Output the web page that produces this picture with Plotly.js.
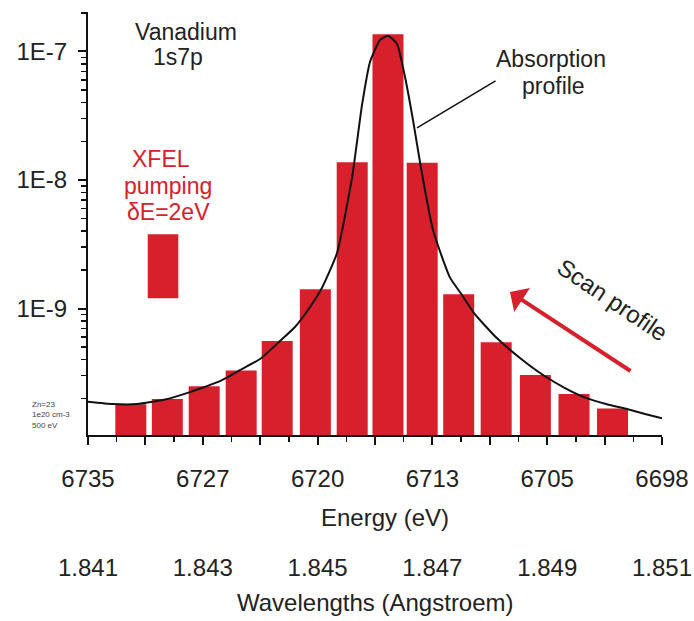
<!DOCTYPE html>
<html><head><meta charset="utf-8">
<script src="https://cdn.plot.ly/plotly-3.0.1.min.js"></script>
<style>html,body{margin:0;padding:0;background:#fff}#chart{width:694px;height:621px}</style>
</head><body><div id="chart"></div>
<script>
// Scan bars (wavelength in Angstrom, intensity)
const barWavelength = [1.841746, 1.842382, 1.843024, 1.843669, 1.844296, 1.844961, 1.845603,
  1.846226, 1.846822, 1.847458, 1.848111, 1.848794, 1.849467, 1.850138];
const barIntensity = [1.80e-10, 1.975e-10, 2.49e-10, 3.30e-10, 5.58e-10, 1.41e-9, 1.373e-8,
  1.361e-7, 1.363e-8, 1.29e-9, 5.46e-10, 3.04e-10, 2.16e-10, 1.67e-10];

// XFEL pumping box
const pumpWavelength = [1.842307];
const pumpBottom = [1.20e-9];
const pumpTop = [3.78e-9];

// Absorption profile curve
const curveWavelength = [1.841000, 1.841436, 1.841854, 1.842341, 1.842777, 1.843003, 1.843300,
  1.843648, 1.843997, 1.844345, 1.844606, 1.844868, 1.845077, 1.845338, 1.845599, 1.845774,
  1.845913, 1.846087, 1.846226, 1.846383, 1.846523, 1.846662, 1.846801, 1.847010, 1.847307,
  1.847516, 1.847725, 1.848108, 1.848526, 1.848927, 1.849310, 1.849641, 1.850024, 1.850390,
  1.850704, 1.851000];
const curveIntensity = [1.883e-10, 1.806e-10, 1.806e-10, 1.958e-10, 2.239e-10, 2.430e-10, 2.728e-10,
  3.321e-10, 4.046e-10, 5.585e-10, 7.178e-10, 1.027e-9, 1.45e-9, 2.703e-9, 1.036e-8, 3.835e-8,
  8.287e-8, 1.229e-7, 1.327e-7, 1.144e-7, 6.331e-8, 2.930e-8, 1.240e-8, 4.081e-9, 1.739e-9,
  1.274e-9, 9.21e-10, 5.98e-10, 4.120e-10, 3.038e-10, 2.406e-10, 2.047e-10, 1.806e-10, 1.651e-10,
  1.510e-10, 1.398e-10];

// Tick labels
const xMajorTicks = [1.841, 1.842, 1.843, 1.844, 1.845, 1.846, 1.847, 1.848, 1.849, 1.850, 1.851];
const energyTickText = ['6735', '', '6727', '', '6720', '', '6713', '', '6705', '', '6698'];
const waveTickVals = [1.841, 1.843, 1.845, 1.847, 1.849, 1.851];
const waveTickText = ['1.841', '1.843', '1.845', '1.847', '1.849', '1.851'];
const yTickVals = [1e-9, 1e-8, 1e-7];
const yTickText = ['1E-9', '1E-8', '1E-7'];

const minorY = [];
[-10, -9, -8, -7].forEach(e => { for (let d = 2; d <= 9; d++) minorY.push(d * Math.pow(10, e)); });

const RED = '#d7202b';
const FONT = 'Liberation Sans, Arial, sans-serif';

const traces = [
  {type: 'bar', x: barWavelength, y: barIntensity, width: 0.00054,
   marker: {color: RED, line: {width: 0}}, xaxis: 'x', yaxis: 'y', hoverinfo: 'skip'},
  {type: 'bar', x: pumpWavelength, base: pumpBottom, y: pumpTop.map((t, i) => t - pumpBottom[i]),
   width: 0.000533, marker: {color: RED, line: {width: 0}}, xaxis: 'x', yaxis: 'y', hoverinfo: 'skip'},
  {type: 'scatter', mode: 'lines', x: curveWavelength, y: curveIntensity,
   line: {color: '#111', width: 2, shape: 'spline', smoothing: 0.5}, xaxis: 'x', yaxis: 'y', hoverinfo: 'skip'},
  {type: 'scatter', mode: 'markers', x: [1.846], y: [0], marker: {opacity: 0}, xaxis: 'x2', yaxis: 'y2', hoverinfo: 'skip'}
];

function ann(text, x, y, size, color, extra) {
  return Object.assign({text: text, xref: 'paper', yref: 'paper', x: x, y: y, showarrow: false,
    xanchor: 'center', yanchor: 'middle', borderpad: 0, font: {family: FONT, size: size, color: color}}, extra || {});
}

const layout = {
  width: 694, height: 621,
  margin: {l: 88, r: 32, t: 12, b: 10},
  paper_bgcolor: '#fff', plot_bgcolor: '#fff',
  showlegend: false, barmode: 'overlay',
  font: {family: FONT, size: 24, color: '#222'},
  xaxis: {domain: [0, 1], anchor: 'y', range: [1.841, 1.851], showline: true, linewidth: 2, linecolor: '#111',
    ticks: 'outside', ticklen: 8, tickwidth: 2, tickcolor: '#111', tickmode: 'array',
    tickvals: xMajorTicks, ticktext: energyTickText, tickfont: {family: FONT, size: 24, color: '#222'},
    ticklabelstandoff: 13, showgrid: false, zeroline: false,
    minor: {ticks: 'outside', ticklen: 5, tickwidth: 1.5, tickcolor: '#111', tickmode: 'linear',
      tick0: 1.841, dtick: 0.0005, showgrid: false}},
  yaxis: {domain: [0.2938, 1], anchor: 'x', type: 'log', range: [-9.984, -6.693], showline: true,
    linewidth: 2, linecolor: '#111', ticks: 'outside', ticklen: 8, tickwidth: 2, tickcolor: '#111',
    tickmode: 'array', tickvals: yTickVals, ticktext: yTickText, tickfont: {family: FONT, size: 24, color: '#222'},
    ticklabelstandoff: 6, showgrid: false, zeroline: false,
    minor: {ticks: 'outside', ticklen: 5, tickwidth: 1.5, tickcolor: '#111', tickmode: 'array',
      tickvals: minorY, showgrid: false}},
  xaxis2: {domain: [0, 1], anchor: 'y2', range: [1.841, 1.851], showline: false, ticks: '',
    tickmode: 'array', tickvals: waveTickVals, ticktext: waveTickText,
    tickfont: {family: FONT, size: 24, color: '#222'}, showgrid: false, zeroline: false},
  yaxis2: {domain: [0.1, 0.12], anchor: 'x2', visible: false, range: [0, 1]},
  annotations: [
    ann('Vanadium', 0.1707, 0.9665, 23, '#222'),
    ann('1s7p', 0.1568, 0.9245, 23, '#222'),
    ann('Absorption', 0.8066, 0.9215, 23, '#222'),
    ann('profile', 0.8118, 0.8765, 23, '#222'),
    ann('XFEL', 0.1272, 0.7546, 23, RED),
    ann('pumping', 0.1394, 0.7095, 23, RED),
    ann('δE=2eV', 0.1394, 0.6653, 23, RED),
    ann('Scan profile', 0.9129, 0.5192, 24, '#222', {textangle: 34}),
    ann('Zn=23<br>1e20 cm-3<br>500 eV', -0.0993, 0.3264, 8, '#444', {xanchor: 'left', align: 'left'}),
    ann('Energy (eV)', 0.5174, 0.1553, 24, '#222'),
    ann('Wavelengths (Angstroem)', 0.5, 0.0134, 24, '#222'),
    {text: '', xref: 'x', yref: 'y', x: 1.846732, y: -7.5953, showarrow: true, arrowhead: 0,
     arrowwidth: 1.5, arrowcolor: '#111', ax: 80, ay: -48, standoff: 0, startstandoff: 0},
    {text: '', xref: 'x', yref: 'y', x: 1.848352, y: -8.8716, showarrow: true, arrowhead: 1,
     arrowsize: 1.2, arrowwidth: 4, arrowcolor: RED, ax: 122, ay: 80, standoff: 0, startstandoff: 0}
  ]
};

Plotly.newPlot('chart', traces, layout, {displayModeBar: false, staticPlot: true});
</script>
</body></html>
